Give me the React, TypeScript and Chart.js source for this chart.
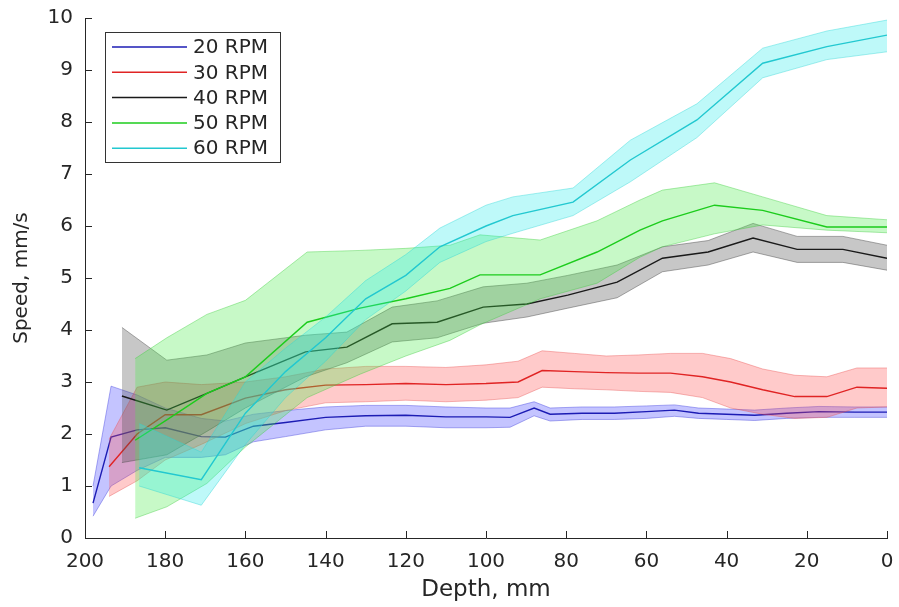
import React, { useEffect, useRef } from "react";
import { Chart, registerables } from "chart.js";

Chart.register(...registerables);

// ---------- data ----------
const seriesLabels = ["20 RPM", "30 RPM", "40 RPM", "50 RPM", "60 RPM"];

const depth20 = [198, 193.5, 187, 180, 171, 165, 158, 150, 140, 130, 120, 110, 100, 94, 88, 84, 76, 68, 60, 53, 47, 40, 33, 25, 17, 8, 0];
const mean20 = [0.67, 1.94, 2.08, 2.12, 1.95, 1.94, 2.15, 2.22, 2.32, 2.35, 2.36, 2.33, 2.33, 2.32, 2.5, 2.38, 2.4, 2.4, 2.43, 2.46, 2.4, 2.38, 2.36, 2.4, 2.43, 2.42, 2.42];
const upper20 = [1.0, 2.92, 2.75, 2.5, 2.3, 2.25, 2.38, 2.45, 2.52, 2.55, 2.55, 2.52, 2.5, 2.5, 2.62, 2.5, 2.52, 2.52, 2.54, 2.56, 2.5, 2.48, 2.46, 2.5, 2.53, 2.52, 2.52];
const lower20 = [0.42, 1.0, 1.3, 1.55, 1.55, 1.6, 1.85, 1.95, 2.08, 2.15, 2.15, 2.12, 2.12, 2.13, 2.35, 2.25, 2.28, 2.28, 2.3, 2.34, 2.3, 2.28, 2.26, 2.3, 2.32, 2.32, 2.32];

const depth30 = [194, 187, 180, 171, 160, 150, 140, 130, 120, 110, 100, 92, 86, 78, 70, 62, 54, 46, 39, 31, 23, 15, 7.5, 0];
const mean30 = [1.37, 2.0, 2.37, 2.37, 2.69, 2.85, 2.94, 2.95, 2.97, 2.95, 2.97, 3.0, 3.22, 3.2, 3.18, 3.17, 3.17, 3.1, 3.0, 2.85, 2.72, 2.72, 2.9, 2.88];
const upper30 = [1.9, 2.9, 3.0, 2.95, 3.0, 3.1, 3.25, 3.3, 3.3, 3.28, 3.33, 3.4, 3.6, 3.55, 3.5, 3.52, 3.55, 3.55, 3.45, 3.25, 3.13, 3.1, 3.27, 3.27];
const lower30 = [0.8, 1.1, 1.5, 1.8, 2.2, 2.45, 2.6, 2.62, 2.65, 2.62, 2.65, 2.7, 2.9, 2.87, 2.85, 2.82, 2.8, 2.7, 2.5, 2.38, 2.3, 2.32, 2.5, 2.52];

const depth40 = [190.8, 179.6, 169.6, 160, 145, 134.7, 123.4, 112.2, 100.7, 89.8, 79.6, 67.3, 56, 44.6, 33.4, 22.4, 11, 0];
const mean40 = [2.73, 2.46, 2.78, 3.1, 3.58, 3.67, 4.12, 4.15, 4.44, 4.5, 4.67, 4.92, 5.38, 5.5, 5.77, 5.55, 5.55, 5.38];
const upper40 = [4.05, 3.42, 3.52, 3.75, 3.9, 3.96, 4.44, 4.56, 4.83, 4.9, 5.05, 5.25, 5.6, 5.72, 6.05, 5.8, 5.8, 5.63];
const lower40 = [1.45, 1.6, 2.05, 2.5, 3.1, 3.37, 3.77, 3.85, 4.13, 4.25, 4.42, 4.62, 5.12, 5.25, 5.5, 5.3, 5.3, 5.15];

const depth50 = [187.5, 179.6, 169.6, 160, 144.6, 131.4, 120, 109, 101.5, 86.5, 72.3, 61.6, 56, 43, 31, 15, 0];
const mean50 = [1.88, 2.27, 2.78, 3.1, 4.15, 4.42, 4.6, 4.8, 5.06, 5.06, 5.5, 5.92, 6.1, 6.4, 6.3, 5.98, 5.98];
const upper50 = [3.45, 3.85, 4.3, 4.57, 5.5, 5.53, 5.57, 5.63, 5.83, 5.73, 6.1, 6.5, 6.69, 6.83, 6.56, 6.2, 6.12];
const lower50 = [0.38, 0.6, 1.05, 1.75, 2.7, 3.15, 3.5, 3.8, 4.1, 4.6, 4.9, 5.4, 5.6, 5.85, 6.02, 5.92, 5.87];

const depth60 = [186.5, 171, 160, 150, 140, 130, 120, 111.5, 100, 93.3, 78.3, 64, 47.4, 31, 15, 0];
const mean60 = [1.35, 1.12, 2.4, 3.2, 3.85, 4.6, 5.05, 5.6, 6.0, 6.2, 6.46, 7.27, 8.04, 9.13, 9.45, 9.67];
const upper60 = [2.2, 1.65, 3.0, 3.65, 4.25, 4.95, 5.45, 5.96, 6.4, 6.56, 6.73, 7.65, 8.35, 9.42, 9.75, 9.96];
const lower60 = [1.0, 0.63, 1.8, 2.7, 3.4, 4.2, 4.75, 5.3, 5.7, 5.86, 6.2, 6.85, 7.7, 8.85, 9.2, 9.35];

const xTickValues = [200, 180, 160, 140, 120, 100, 80, 60, 40, 20, 0];
const yTickValues = [0, 1, 2, 3, 4, 5, 6, 7, 8, 9, 10];

// ---------- styles ----------
const lineColors = ["#1c1cb4", "#e02424", "#1a1a1a", "#1ccc1c", "#22c8d0"];
const bandColors = [
  "rgba(70,70,255,0.32)",
  "rgba(255,80,80,0.30)",
  "rgba(80,80,80,0.32)",
  "rgba(70,235,70,0.30)",
  "rgba(40,235,235,0.30)",
];
const edgeColors = [
  "rgba(70,70,220,0.45)",
  "rgba(230,80,80,0.40)",
  "rgba(70,70,70,0.45)",
  "rgba(60,200,60,0.40)",
  "rgba(40,210,210,0.40)",
];
const FONT = "'DejaVu Sans', 'Liberation Sans', Arial, sans-serif";
const AXIS = "#262626";

const groups = [
  { d: depth20, m: mean20, u: upper20, l: lower20 },
  { d: depth30, m: mean30, u: upper30, l: lower30 },
  { d: depth40, m: mean40, u: upper40, l: lower40 },
  { d: depth50, m: mean50, u: upper50, l: lower50 },
  { d: depth60, m: mean60, u: upper60, l: lower60 },
];

const pts = (xs: number[], ys: number[]) => xs.map((x, i) => ({ x, y: ys[i] }));

const inwardTicks = {
  id: "inwardTicks",
  afterDraw(chart: any) {
    const { ctx, chartArea } = chart;
    const xs = chart.scales.x;
    const ys = chart.scales.y;
    ctx.save();
    ctx.strokeStyle = AXIS;
    ctx.lineWidth = 1;
    ctx.beginPath();
    xTickValues.forEach((v) => {
      const px = Math.round(xs.getPixelForValue(v)) + 0.5;
      ctx.moveTo(px, chartArea.bottom);
      ctx.lineTo(px, chartArea.bottom - 7);
    });
    yTickValues.forEach((v) => {
      const py = Math.round(ys.getPixelForValue(v)) + 0.5;
      ctx.moveTo(chartArea.left, py);
      ctx.lineTo(chartArea.left + 7, py);
    });
    ctx.stroke();
    ctx.restore();
  },
};

const boxLegend = {
  id: "boxLegend",
  afterDraw(chart: any) {
    const { ctx, chartArea } = chart;
    const x0 = chartArea.left + 20;
    const y0 = chartArea.top + 14;
    const w = 175;
    const rowH = 25.3;
    const h = 130;
    ctx.save();
    ctx.fillStyle = "#ffffff";
    ctx.fillRect(x0, y0, w, h);
    ctx.strokeStyle = "#333333";
    ctx.lineWidth = 1;
    ctx.strokeRect(x0 + 0.5, y0 + 0.5, w, h);
    ctx.font = `20px ${FONT}`;
    ctx.textBaseline = "middle";
    ctx.textAlign = "left";
    seriesLabels.forEach((label, i) => {
      const cy = y0 + 15 + i * rowH;
      ctx.strokeStyle = lineColors[i];
      ctx.lineWidth = 1.5;
      ctx.beginPath();
      ctx.moveTo(x0 + 7, cy);
      ctx.lineTo(x0 + 82, cy);
      ctx.stroke();
      ctx.fillStyle = AXIS;
      ctx.fillText(label, x0 + 88, cy + 1);
    });
    ctx.restore();
  },
};

export default function App() {
  const ref = useRef<HTMLCanvasElement | null>(null);

  useEffect(() => {
    document.body.style.margin = "0";
    const canvas = ref.current;
    if (!canvas) return;
    const datasets: any[] = [];
    const n = groups.length * 3;
    groups.forEach((g, i) => {
      datasets.push({
        label: "",
        data: pts(g.d, g.u),
        borderColor: edgeColors[i],
        borderWidth: 1,
        pointRadius: 0,
        fill: false,
        order: n - datasets.length,
      });
      datasets.push({
        label: "",
        data: pts(g.d, g.l),
        borderColor: edgeColors[i],
        borderWidth: 1,
        pointRadius: 0,
        backgroundColor: bandColors[i],
        fill: "-1",
        order: n - datasets.length,
      });
      datasets.push({
        label: seriesLabels[i],
        data: pts(g.d, g.m),
        borderColor: lineColors[i],
        borderWidth: 1.4,
        pointRadius: 0,
        fill: false,
        order: n - datasets.length,
      });
    });

    const chart = new Chart(canvas, {
      type: "line",
      data: { datasets },
      options: {
        responsive: false,
        animation: false,
        devicePixelRatio: 1,
        events: [],
        layout: { padding: { top: 18, right: 12, bottom: 0, left: 0 } },
        elements: { line: { tension: 0 } },
        plugins: {
          legend: { display: false },
          tooltip: { enabled: false },
        },
        scales: {
          x: {
            type: "linear",
            min: 0,
            max: 200,
            reverse: true,
            afterFit: (s: any) => {
              s.height = 69;
              s.paddingLeft = 0;
              s.paddingRight = 0;
            },
            afterBuildTicks: (s: any) => {
              s.ticks = xTickValues.map((v) => ({ value: v }));
            },
            grid: { display: false, drawTicks: false, tickLength: 0 },
            border: { display: true, color: AXIS, width: 1 },
            ticks: {
              padding: 12,
              color: AXIS,
              font: { family: FONT, size: 20 },
              maxRotation: 0,
            },
            title: {
              display: true,
              text: "Depth, mm",
              color: AXIS,
              font: { family: FONT, size: 23 },
              padding: { top: 0, bottom: 3 },
            },
          },
          y: {
            type: "linear",
            min: 0,
            max: 10,
            afterFit: (s: any) => {
              s.width = 85;
              s.paddingTop = 0;
              s.paddingBottom = 0;
            },
            afterBuildTicks: (s: any) => {
              s.ticks = yTickValues.map((v) => ({ value: v }));
            },
            grid: { display: false, drawTicks: false, tickLength: 0 },
            border: { display: true, color: AXIS, width: 1 },
            ticks: {
              padding: 12,
              color: AXIS,
              font: { family: FONT, size: 20 },
            },
            title: {
              display: true,
              text: "Speed, mm/s",
              color: AXIS,
              font: { family: FONT, size: 20 },
              padding: { top: 10, bottom: 0 },
            },
          },
        },
      },
      plugins: [inwardTicks, boxLegend],
    });
    return () => chart.destroy();
  }, []);

  return (
    <div style={{ width: 899, height: 607 }}>
      <canvas ref={ref} width={899} height={607} style={{ display: "block" }} />
    </div>
  );
}
